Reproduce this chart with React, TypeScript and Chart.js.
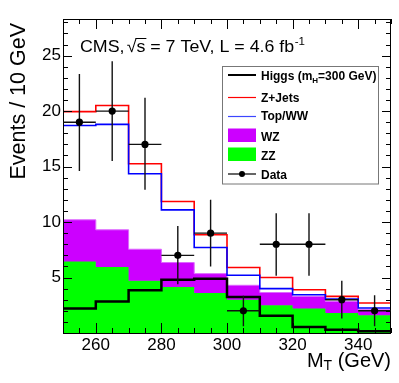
import React, { useEffect, useRef } from "react";
import { Chart, registerables } from "chart.js";

Chart.register(...registerables);

// ---- data ----
const binEdges = [250, 260, 270, 280, 290, 300, 310, 320, 330, 340, 350];
const zzValues = [6.45, 5.95, 4.7, 4.15, 3.6, 3.0, 2.5, 2.2, 1.8, 1.6];
const wzStackValues = [10.2, 9.3, 7.55, 6.35, 5.35, 4.3, 3.65, 3.3, 2.85, 2.1];
const topWWStackValues = [18.7, 18.8, 14.35, 11.1, 7.7, 5.2, 4.0, 3.45, 3.05, 2.25];
const zJetsStackValues = [19.95, 20.5, 15.25, 11.85, 8.85, 5.9, 5.0, 3.9, 3.3, 2.7];
const higgsValues = [2.2, 2.85, 3.85, 4.8, 4.9, 3.25, 1.55, 0.55, 0.3, 0.15];
const dataCenters = [255, 265, 275, 285, 295, 305, 315, 325, 335, 345];
const dataValues = [19, 20, 17, 7, 9, 2, 8, 8, 3, 2];
const dataErrHigh = [4.35, 4.5, 4.2, 2.65, 3.0, 1.35, 2.8, 2.8, 1.7, 1.4];
const dataErrLow = [4.4, 4.5, 4.1, 2.6, 3.0, 1.4, 2.85, 2.85, 1.7, 1.4];
const dataHalfWidth = [5, 5, 5, 5, 5, 5, 5, 5, 5, 5];
const xTickValues = [260, 280, 300, 320, 340];
const yTickValues = [5, 10, 15, 20, 25];
const xRange = [250, 350];
const yRange = [0, 28.3];

const FONT = '"Liberation Sans", Arial, Helvetica, sans-serif';
const MAGENTA = "#cc00ff";
const GREEN = "#00ff00";

function stepPoints(values: number[]) {
  return binEdges.map((x, i) => ({ x, y: values[Math.min(i, values.length - 1)] }));
}

const decorPlugin = {
  id: "rootDecor",
  afterDatasetsDraw(chart: any) {
    const ctx: CanvasRenderingContext2D = chart.ctx;
    const xs = chart.scales.x;
    const ys = chart.scales.y;
    const a = chart.chartArea;
    ctx.save();
    // frame
    ctx.strokeStyle = "#000";
    ctx.lineWidth = 1;
    ctx.strokeRect(Math.round(a.left) + 0.5, Math.round(a.top) + 0.5, Math.round(a.right - a.left) - 1, Math.round(a.bottom - a.top));
    // x ticks (bottom & top, inward)
    ctx.beginPath();
    for (let v = xRange[0]; v <= xRange[1]; v += 5) {
      const major = v % 20 === 0;
      const len = major ? 10 : 5;
      const px = Math.round(xs.getPixelForValue(v)) + 0.5;
      ctx.moveTo(px, a.bottom);
      ctx.lineTo(px, a.bottom - len);
      ctx.moveTo(px, a.top);
      ctx.lineTo(px, a.top + len);
    }
    // y ticks (left & right, inward)
    for (let v = 1; v <= 28; v += 1) {
      const major = v % 5 === 0;
      const len = major ? 9 : 5;
      const py = Math.round(ys.getPixelForValue(v)) + 0.5;
      ctx.moveTo(a.left, py);
      ctx.lineTo(a.left + len, py);
      ctx.moveTo(a.right, py);
      ctx.lineTo(a.right - len, py);
    }
    ctx.stroke();

    // data error bars
    ctx.strokeStyle = "#111";
    ctx.lineWidth = 1.4;
    ctx.beginPath();
    dataCenters.forEach((cx, i) => {
      const px = xs.getPixelForValue(cx);
      const py = ys.getPixelForValue(dataValues[i]);
      ctx.moveTo(xs.getPixelForValue(cx - dataHalfWidth[i]), py);
      ctx.lineTo(xs.getPixelForValue(cx + dataHalfWidth[i]), py);
      ctx.moveTo(px, ys.getPixelForValue(dataValues[i] + dataErrHigh[i]));
      ctx.lineTo(px, ys.getPixelForValue(dataValues[i] - dataErrLow[i]));
    });
    ctx.stroke();
    ctx.fillStyle = "#000";
    dataCenters.forEach((cx, i) => {
      ctx.beginPath();
      ctx.arc(xs.getPixelForValue(cx), ys.getPixelForValue(dataValues[i]), 3.6, 0, Math.PI * 2);
      ctx.fill();
    });
    ctx.restore();
  },
  afterDraw(chart: any) {
    const ctx: CanvasRenderingContext2D = chart.ctx;
    ctx.save();
    ctx.fillStyle = "#000";
    ctx.textBaseline = "alphabetic";
    ctx.textAlign = "left";

    // title: CMS, sqrt(s) = 7 TeV, L = 4.6 fb^-1  (fitted between x=80 and x=305)
    {
      const by = 51.5;
      ctx.font = `17px ${FONT}`;
      const p1 = "CMS,";
      const p2 = "\u221A";
      const p3 = "s";
      const p4 = " = 7 TeV, L = 4.6 fb";
      const w1 = ctx.measureText(p1).width + 2;
      const w2 = ctx.measureText(p2).width;
      const w3 = ctx.measureText(p3).width;
      const w4 = ctx.measureText(p4).width;
      ctx.font = `11px ${FONT}`;
      const w5 = ctx.measureText("-1").width + 0.5;
      const total = w1 + w2 + w3 + w4 + w5;
      const sx = (305 - 80) / total;
      ctx.save();
      ctx.translate(80, 0);
      ctx.scale(sx, 1);
      let x = 0;
      ctx.font = `17px ${FONT}`;
      ctx.fillText(p1, x, by);
      x += w1;
      const rootStart = x;
      ctx.fillText(p2, x, by);
      x += w2;
      ctx.fillText(p3, x, by);
      ctx.strokeStyle = "#000";
      ctx.lineWidth = 1;
      ctx.beginPath();
      ctx.moveTo(rootStart + w2 - 1, 38.5);
      ctx.lineTo(x + w3 + 1, 38.5);
      ctx.stroke();
      x += w3;
      ctx.fillText(p4, x, by);
      x += w4;
      ctx.font = `11px ${FONT}`;
      ctx.fillText("-1", x + 0.5, by - 7);
      ctx.restore();
    }

    // y axis title
    ctx.save();
    ctx.translate(25, 23);
    ctx.rotate(-Math.PI / 2);
    ctx.font = `21.5px ${FONT}`;
    ctx.textAlign = "right";
    ctx.fillText("Events / 10 GeV", 0, 0);
    ctx.restore();

    // x axis title
    ctx.font = `20px ${FONT}`;
    const m = "M";
    const t2 = " (GeV)";
    const mW = ctx.measureText(m).width;
    const t2W = ctx.measureText(t2).width;
    ctx.font = `14px ${FONT}`;
    const tW = ctx.measureText("T").width;
    let xx = 391 - (mW + tW + t2W);
    const xby = 367;
    ctx.font = `20px ${FONT}`;
    ctx.fillText(m, xx, xby);
    xx += mW;
    ctx.font = `14px ${FONT}`;
    ctx.fillText("T", xx, xby + 3);
    xx += tW;
    ctx.font = `20px ${FONT}`;
    ctx.fillText(t2, xx, xby);

    // legend
    ctx.fillStyle = "#fff";
    ctx.fillRect(222.5, 66.5, 156, 117.5);
    ctx.strokeStyle = "#777";
    ctx.lineWidth = 1;
    ctx.strokeRect(222.5, 66.5, 156, 117.5);
    const lx0 = 228;
    const lx1 = 256;
    const tx = 261;
    // Higgs
    ctx.strokeStyle = "#000000";
    ctx.lineWidth = 2;
    ctx.beginPath();
    ctx.moveTo(lx0, 75);
    ctx.lineTo(lx1, 75);
    ctx.stroke();
    // Z+Jets
    ctx.strokeStyle = "rgb(255,0,0)";
    ctx.lineWidth = 1.2;
    ctx.beginPath();
    ctx.moveTo(lx0, 97.5);
    ctx.lineTo(lx1, 97.5);
    ctx.stroke();
    // Top/WW
    ctx.strokeStyle = "rgb(60,70,255)";
    ctx.lineWidth = 1.2;
    ctx.beginPath();
    ctx.moveTo(lx0, 116.5);
    ctx.lineTo(lx1, 116.5);
    ctx.stroke();
    // WZ
    ctx.fillStyle = MAGENTA;
    ctx.fillRect(lx0, 128.5, lx1 - lx0, 13.5);
    // ZZ
    ctx.fillStyle = GREEN;
    ctx.fillRect(lx0, 147.5, lx1 - lx0, 13.5);
    // Data
    ctx.strokeStyle = "#000000";
    ctx.lineWidth = 1.2;
    ctx.beginPath();
    ctx.moveTo(lx0, 174);
    ctx.lineTo(lx1, 174);
    ctx.stroke();
    ctx.fillStyle = "#000";
    ctx.beginPath();
    ctx.arc((lx0 + lx1) / 2, 174, 3, 0, Math.PI * 2);
    ctx.fill();

    ctx.fillStyle = "#000";
    ctx.font = `bold 12px ${FONT}`;
    let hx = tx;
    ctx.fillText("Higgs (m", hx, 80);
    hx += ctx.measureText("Higgs (m").width;
    ctx.font = `bold 8px ${FONT}`;
    ctx.fillText("H", hx, 83);
    hx += ctx.measureText("H").width;
    ctx.font = `bold 12px ${FONT}`;
    ctx.fillText("=300 GeV)", hx, 80);
    ctx.fillText("Z+Jets", tx, 101.5);
    ctx.fillText("Top/WW", tx, 120);
    ctx.fillText("WZ", tx, 140.5);
    ctx.fillText("ZZ", tx, 159.5);
    ctx.fillText("Data", tx, 178.5);
    ctx.restore();
  },
};

export default function App() {
  const canvasRef = useRef<HTMLCanvasElement | null>(null);

  useEffect(() => {
    const canvas = canvasRef.current;
    if (!canvas) return;
    const chart = new Chart(canvas, {
      type: "line",
      data: {
        datasets: [
          {
            label: "Higgs (mH=300 GeV)",
            data: stepPoints(higgsValues),
            stepped: true,
            borderColor: "#000",
            borderWidth: 2.5,
            pointRadius: 0,
            fill: false,
          },
          {
            label: "Top/WW",
            data: stepPoints(topWWStackValues),
            stepped: true,
            borderColor: "#0000ff",
            borderWidth: 1.6,
            pointRadius: 0,
            fill: false,
          },
          {
            label: "Z+Jets",
            data: stepPoints(zJetsStackValues),
            stepped: true,
            borderColor: "#ff0000",
            borderWidth: 1.6,
            pointRadius: 0,
            fill: false,
          },
          {
            label: "WZ",
            data: stepPoints(wzStackValues),
            stepped: true,
            borderColor: "#dd66ff",
            borderWidth: 1,
            backgroundColor: MAGENTA,
            pointRadius: 0,
            fill: 4,
          },
          {
            label: "ZZ",
            data: stepPoints(zzValues),
            stepped: true,
            borderColor: GREEN,
            borderWidth: 1,
            backgroundColor: GREEN,
            pointRadius: 0,
            fill: "origin",
          },
        ],
      } as any,
      options: {
        animation: false,
        responsive: false,
        devicePixelRatio: 1,
        layout: { padding: { top: 19, right: 8, left: 0, bottom: 0 } },
        plugins: {
          legend: { display: false },
          tooltip: { enabled: false },
          filler: { propagate: false },
        },
        scales: {
          x: {
            type: "linear",
            min: xRange[0],
            max: xRange[1],
            grid: { display: false, drawTicks: false },
            border: { display: false },
            ticks: {
              font: { family: FONT, size: 17 },
              color: "#000",
              padding: 2,
              maxRotation: 0,
              autoSkip: false,
              callback: (v: any) => String(v),
            },
            afterBuildTicks: (s: any) => {
              s.ticks = xTickValues.map((v) => ({ value: v }));
            },
            afterFit: (s: any) => {
              s.height = 50;
            },
          },
          y: {
            type: "linear",
            min: yRange[0],
            max: yRange[1],
            grid: { display: false, drawTicks: false },
            border: { display: false },
            ticks: {
              font: { family: FONT, size: 17 },
              color: "#000",
              padding: 2,
              autoSkip: false,
              callback: (v: any) => String(v),
            },
            afterBuildTicks: (s: any) => {
              s.ticks = yTickValues.map((v) => ({ value: v }));
            },
            afterFit: (s: any) => {
              s.width = 63;
            },
          },
        },
      } as any,
      plugins: [decorPlugin],
    });
    return () => chart.destroy();
  }, []);

  return (
    <div style={{ position: "absolute", left: 0, top: 0, width: 399, height: 383, background: "#fff" }}>
      <canvas ref={canvasRef} width={399} height={383} style={{ display: "block" }} />
    </div>
  );
}
